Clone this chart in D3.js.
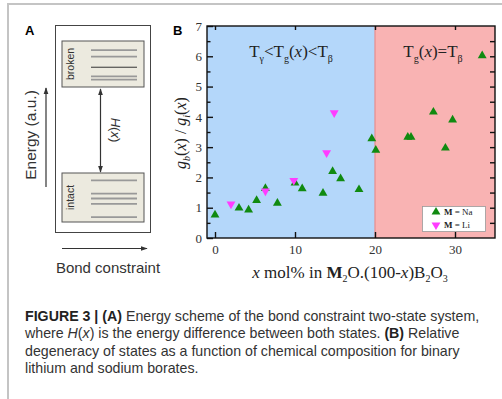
<!DOCTYPE html>
<html>
<head>
<meta charset="utf-8">
<script src="https://cdn.jsdelivr.net/npm/d3@7"></script>
<style>
  body { margin: 0; background: #fff; }
  #fig { width: 502px; height: 399px; }
</style>
</head>
<body>
<div id="fig"></div>
<script>
// panel B data
const naX = [0, 3, 4.2, 5.2, 6.3, 7.8, 10, 10.9, 13.5, 14.7, 15.7, 18, 19.6, 20.1, 24.1, 24.5, 27.3, 28.8, 29.7, 33.4];
const naY = [0.76, 0.99, 0.93, 1.24, 1.64, 1.15, 1.82, 1.63, 1.48, 2.2, 1.96, 1.6, 3.28, 2.9, 3.33, 3.33, 4.16, 2.97, 3.9, 6.02];
const liX = [2.0, 6.3, 9.85, 13.95, 14.9];
const liY = [1.12, 1.55, 1.9, 2.81, 4.13];
const xTicks = [0, 10, 20, 30];
const yTicks = [0, 1, 2, 3, 4, 5, 6, 7];
const regionSplit = 20;

// panel A levels (arbitrary energy units inside each box)
const brokenLevels = [0.2, 0.34, 0.57, 0.77, 0.84];
const intactLevels = [0.15, 0.42, 0.52, 0.63, 0.9];

const W = 502, H = 399;
const serif = "'Liberation Serif', 'Times New Roman', serif";
const sans = "'Liberation Sans', Arial, sans-serif";
const svg = d3.select("#fig").append("svg").attr("width", W).attr("height", H);

const defs = svg.append("defs");
defs.append("marker").attr("id", "ah").attr("viewBox", "0 0 10 10")
  .attr("refX", 9).attr("refY", 5).attr("markerWidth", 6).attr("markerHeight", 6)
  .attr("orient", "auto-start-reverse")
  .append("path").attr("d", "M0,1.5L10,5L0,8.5Z").attr("fill", "#333");

// figure frame
svg.append("path").attr("d", "M8,420V4H520")
  .attr("fill", "none").attr("stroke", "#c4c4c4").attr("stroke-width", 2);

// ---------- panel A ----------
const A = svg.append("g").attr("font-family", sans);
A.append("text").attr("x", 25).attr("y", 35).attr("font-weight", "bold").attr("font-size", 13).text("A");
A.append("rect").attr("x", 55.5).attr("y", 25.5).attr("width", 95).attr("height", 207)
  .attr("fill", "none").attr("stroke", "#444").attr("stroke-width", 1);

function stateBox(y0, y1, label, levels) {
  const ly = d3.scaleLinear().domain([0, 1]).range([y0, y1]);
  A.append("rect").attr("x", 62).attr("y", y0).attr("width", 82).attr("height", y1 - y0)
    .attr("fill", "#eceadf").attr("stroke", "#555").attr("stroke-width", 1);
  A.append("text").attr("transform", `translate(74,${(y0 + y1) / 2}) rotate(-90)`)
    .attr("text-anchor", "middle").attr("font-size", 10.5).attr("fill", "#333").text(label);
  A.selectAll(null).data(levels).enter().append("line")
    .attr("x1", 91).attr("x2", 137)
    .attr("y1", d => ly(d)).attr("y2", d => ly(d))
    .attr("stroke", (d, i) => (label === "broken" && i === 2) ? "#333" : "#999")
    .attr("stroke-width", (d, i) => (label === "broken" && i === 2) ? 1 : 1.8);
}
stateBox(41, 87, "broken", brokenLevels);
stateBox(173, 222, "intact", intactLevels);

A.append("line").attr("x1", 100.5).attr("x2", 100.5).attr("y1", 89).attr("y2", 172)
  .attr("stroke", "#333").attr("stroke-width", 1.2)
  .attr("marker-start", "url(#ah)").attr("marker-end", "url(#ah)");
const hx = A.append("text").attr("transform", "translate(111,130) rotate(90)")
  .attr("text-anchor", "middle").attr("font-size", 13).attr("fill", "#333");
hx.append("tspan").attr("font-style", "italic").text("H");
hx.append("tspan").text("(");
hx.append("tspan").attr("font-style", "italic").text("x");
hx.append("tspan").text(")");

A.append("line").attr("x1", 46).attr("x2", 46).attr("y1", 187).attr("y2", 88)
  .attr("stroke", "#333").attr("stroke-width", 1.2).attr("marker-end", "url(#ah)");
A.append("text").attr("transform", "translate(36,135) rotate(-90)")
  .attr("text-anchor", "middle").attr("font-size", 15.5).attr("fill", "#333").text("Energy (a.u.)");
A.append("line").attr("x1", 62).attr("x2", 147).attr("y1", 248.5).attr("y2", 248.5)
  .attr("stroke", "#333").attr("stroke-width", 1.2).attr("marker-end", "url(#ah)");
A.append("text").attr("x", 108).attr("y", 273).attr("text-anchor", "middle")
  .attr("font-size", 15).attr("fill", "#333").text("Bond constraint");

// ---------- panel B ----------
svg.append("text").attr("x", 173).attr("y", 35).attr("font-family", sans)
  .attr("font-weight", "bold").attr("font-size", 13).text("B");

const x = d3.scaleLinear().domain([-1, 35]).range([207, 495]);
const y = d3.scaleLinear().domain([0, 7]).range([238, 26]);
const B = svg.append("g").attr("font-family", serif);

B.append("rect").attr("x", x(-1)).attr("y", y(7)).attr("width", x(regionSplit) - x(-1))
  .attr("height", y(0) - y(7)).attr("fill", "#b4d7fa");
B.append("rect").attr("x", x(regionSplit)).attr("y", y(7)).attr("width", x(35) - x(regionSplit))
  .attr("height", y(0) - y(7)).attr("fill", "#f9b3b3");
B.append("line").attr("x1", x(regionSplit)).attr("x2", x(regionSplit)).attr("y1", y(0)).attr("y2", y(7))
  .attr("stroke", "#e88d8d").attr("stroke-width", 1.2);

// axes
const minorY = d3.range(0.5, 7, 1);
B.append("g").attr("transform", `translate(${x(-1)},0)`)
  .call(d3.axisLeft(y).tickValues(yTicks).tickSize(-6).tickPadding(5).tickFormat(d3.format("d")))
  .call(g => g.select(".domain").remove());
B.append("g").attr("transform", `translate(${x(-1)},0)`)
  .call(d3.axisLeft(y).tickValues(minorY).tickSize(-3.5).tickFormat(""))
  .call(g => g.select(".domain").remove());
B.append("g").attr("transform", `translate(${x(35)},0)`)
  .call(d3.axisRight(y).tickValues(d3.range(0.5, 7, 0.5)).tickSize(-5).tickFormat(""))
  .call(g => g.select(".domain").remove());
B.append("g").attr("transform", `translate(0,${y(0)})`)
  .call(d3.axisBottom(x).tickValues(xTicks).tickSize(-6).tickPadding(7).tickFormat(d3.format("d")))
  .call(g => g.select(".domain").remove());
B.append("g").attr("transform", `translate(0,${y(7)})`)
  .call(d3.axisTop(x).tickValues(xTicks).tickSize(-4).tickFormat(""))
  .call(g => g.select(".domain").remove());
B.selectAll("g").attr("font-family", serif);
B.selectAll(".tick line").attr("stroke", "#111").attr("stroke-width", 1.4);
B.selectAll(".tick text").attr("font-size", 13).attr("fill", "#333");

B.append("rect").attr("x", x(-1)).attr("y", y(7)).attr("width", x(35) - x(-1))
  .attr("height", y(0) - y(7)).attr("fill", "none").attr("stroke", "#111").attr("stroke-width", 1.4);

// region labels
function tLabel(cx, parts) {
  const t = B.append("text").attr("x", cx).attr("y", 57).attr("text-anchor", "middle")
    .attr("font-size", 17).attr("fill", "#222");
  parts.forEach(p => {
    const s = t.append("tspan").text(p.t);
    if (p.sub) s.attr("font-size", 10).attr("dy", 5);
    if (p.up) s.attr("dy", -5);
    if (p.it) s.attr("font-style", "italic");
  });
}
tLabel(291, [{ t: "T" }, { t: "γ", sub: 1 }, { t: "<T", up: 1 }, { t: "g", sub: 1 }, { t: "(", up: 1 },
  { t: "x", it: 1 }, { t: ")<T" }, { t: "β", sub: 1 }]);
tLabel(433, [{ t: "T" }, { t: "g", sub: 1 }, { t: "(", up: 1 }, { t: "x", it: 1 }, { t: ")=T" }, { t: "β", sub: 1 }]);

// y label
const yl = B.append("text").attr("transform", "translate(186,133) rotate(-90)")
  .attr("text-anchor", "middle").attr("font-size", 16).attr("fill", "#222");
yl.append("tspan").attr("font-style", "italic").text("g");
yl.append("tspan").attr("font-style", "italic").attr("font-size", 10).attr("dy", 4).text("b");
yl.append("tspan").attr("dy", -4).text("(");
yl.append("tspan").attr("font-style", "italic").text("x");
yl.append("tspan").text(") / ");
yl.append("tspan").attr("font-style", "italic").text("g");
yl.append("tspan").attr("font-style", "italic").attr("font-size", 10).attr("dy", 4).text("i");
yl.append("tspan").attr("dy", -4).text("(");
yl.append("tspan").attr("font-style", "italic").text("x");
yl.append("tspan").text(")");

// x label
const xl = B.append("text").attr("x", 350).attr("y", 278).attr("text-anchor", "middle")
  .attr("font-size", 17).attr("fill", "#222");
xl.append("tspan").attr("font-style", "italic").text("x");
xl.append("tspan").text(" mol% in ");
xl.append("tspan").attr("font-weight", "bold").text("M");
xl.append("tspan").attr("font-size", 10).attr("dy", 4).text("2");
xl.append("tspan").attr("dy", -4).text("O.(100-");
xl.append("tspan").attr("font-style", "italic").text("x");
xl.append("tspan").text(")B");
xl.append("tspan").attr("font-size", 10).attr("dy", 4).text("2");
xl.append("tspan").attr("dy", -4).text("O");
xl.append("tspan").attr("font-size", 10).attr("dy", 4).text("3");

// points
const tri = d3.symbol().type(d3.symbolTriangle).size(34);
const na = naX.map((v, i) => ({ x: v, y: naY[i] }));
const li = liX.map((v, i) => ({ x: v, y: liY[i] }));
B.selectAll(".na").data(na).enter().append("path").attr("class", "na")
  .attr("d", tri).attr("fill", "#108a10")
  .attr("transform", d => `translate(${x(d.x)},${y(d.y)})`);
B.selectAll(".li").data(li).enter().append("path").attr("class", "li")
  .attr("d", tri).attr("fill", "#ff3cff")
  .attr("transform", d => `translate(${x(d.x)},${y(d.y)}) rotate(180)`);

// legend
const lg = B.append("g");
lg.append("rect").attr("x", 422.5).attr("y", 206.5).attr("width", 63).attr("height", 25)
  .attr("fill", "#fff").attr("stroke", "#999").attr("stroke-width", 0.8);
lg.append("path").attr("d", tri).attr("fill", "#108a10").attr("transform", "translate(436,212)");
lg.append("path").attr("d", tri).attr("fill", "#ff3cff").attr("transform", "translate(436,225) rotate(180)");
[["Na", 215], ["Li", 228]].forEach(([m, yy]) => {
  const t = lg.append("text").attr("x", 444).attr("y", yy).attr("font-size", 9).attr("fill", "#222");
  t.append("tspan").attr("font-weight", "bold").text("M");
  t.append("tspan").text(" = " + m);
});

// ---------- caption ----------
const cap = svg.append("g").attr("font-family", sans)
  .attr("font-size", 14.2).attr("fill", "#333");
const capLines = [
  [["FIGURE 3 | (A)", "b"], [" Energy scheme of the bond constraint two-state system,", ""]],
  [["where ", ""], ["H", "i"], ["(", ""], ["x", "i"], [") is the energy difference between both states. ", ""], ["(B)", "b"], [" Relative", ""]],
  [["degeneracy of states as a function of chemical composition for binary", ""]],
  [["lithium and sodium borates.", ""]]
];
capLines.forEach((ln, i) => {
  const t = cap.append("text").attr("x", 25).attr("y", 321 + i * 17.3);
  ln.forEach(([s, st]) => {
    const sp = t.append("tspan").text(s);
    if (st === "b") sp.attr("font-weight", "bold").attr("fill", "#222");
    if (st === "i") sp.attr("font-style", "italic");
  });
});
</script>
</body>
</html>
